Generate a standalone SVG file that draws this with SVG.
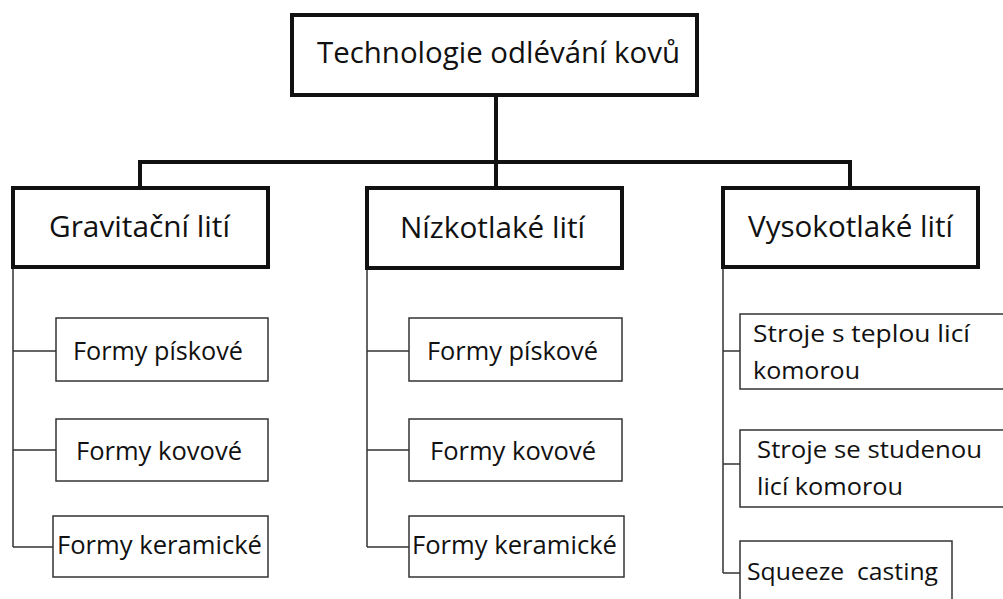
<svg xmlns="http://www.w3.org/2000/svg" width="1003" height="599" viewBox="0 0 1003 599">
<style>
.thick{fill:#fff;stroke:#111;stroke-width:4}
.thin{fill:#fff;stroke:#333;stroke-width:1.5}
.cthick{fill:none;stroke:#111;stroke-width:4}
.cthin{fill:none;stroke:#333;stroke-width:1.5}
text{font-family:"Open Sans",Lato,"Liberation Sans",sans-serif;fill:#111}
.t1{font-size:29px}
.t3{font-size:26px}
.t4{font-size:24px}
</style>
<rect width="1003" height="599" fill="#fff"/>
<g id="connectors">
<path class="cthick" d="M496 95V188M140 188V162H850V188"/>
<path class="cthin" d="M13 267V547M13 351H56M13 450H56M13 547H53"/>
<path class="cthin" d="M367 268V547M367 351H409M367 450H409M367 547H409"/>
<path class="cthin" d="M723 267V573M723 351H740M723 464H740M723 573H740"/>
</g>
<g id="root"><rect class="thick" x="292" y="15" width="405" height="80"/><text class="t1" x="317" y="63" textLength="363" lengthAdjust="spacingAndGlyphs">Technologie odlévání kovů</text></g>
<g id="gravitacni"><rect class="thick" x="13" y="188" width="255" height="79"/><text class="t1" x="49" y="237" textLength="181" lengthAdjust="spacingAndGlyphs">Gravitační lití</text></g>
<g id="nizkotlake"><rect class="thick" x="367" y="188" width="255" height="80"/><text class="t1" x="400" y="238" textLength="185" lengthAdjust="spacingAndGlyphs">Nízkotlaké lití</text></g>
<g id="vysokotlake"><rect class="thick" x="723" y="188" width="255" height="79"/><text class="t1" x="748" y="237" textLength="205" lengthAdjust="spacingAndGlyphs">Vysokotlaké lití</text></g>
<g id="g-piskove"><rect class="thin" x="56" y="318" width="212" height="63"/><text class="t3" x="73" y="360" textLength="170" lengthAdjust="spacingAndGlyphs">Formy pískové</text></g>
<g id="g-kovove"><rect class="thin" x="56" y="419" width="212" height="62"/><text class="t3" x="76" y="460" textLength="166" lengthAdjust="spacingAndGlyphs">Formy kovové</text></g>
<g id="g-keramicke"><rect class="thin" x="53" y="516" width="215" height="61"/><text class="t3" x="57" y="554" textLength="205" lengthAdjust="spacingAndGlyphs">Formy keramické</text></g>
<g id="n-piskove"><rect class="thin" x="409" y="318" width="213" height="63"/><text class="t3" x="427" y="360" textLength="171" lengthAdjust="spacingAndGlyphs">Formy pískové</text></g>
<g id="n-kovove"><rect class="thin" x="409" y="419" width="213" height="62"/><text class="t3" x="430" y="460" textLength="166" lengthAdjust="spacingAndGlyphs">Formy kovové</text></g>
<g id="n-keramicke"><rect class="thin" x="409" y="516" width="215" height="61"/><text class="t3" x="412" y="554" textLength="205" lengthAdjust="spacingAndGlyphs">Formy keramické</text></g>
<g id="v-teplou"><rect class="thin" x="740" y="314" width="270" height="75"/><text class="t4" x="753" y="342" textLength="217" lengthAdjust="spacingAndGlyphs">Stroje s teplou licí</text><text class="t4" x="753" y="379" textLength="107" lengthAdjust="spacingAndGlyphs">komorou</text></g>
<g id="v-studenou"><rect class="thin" x="740" y="430" width="270" height="77"/><text class="t4" x="757" y="458" textLength="225" lengthAdjust="spacingAndGlyphs">Stroje se studenou</text><text class="t4" x="757" y="495" textLength="146" lengthAdjust="spacingAndGlyphs">licí komorou</text></g>
<g id="v-squeeze"><rect class="thin" x="740" y="541" width="212" height="70"/><text class="t4" x="747" y="580" textLength="191" lengthAdjust="spacingAndGlyphs" xml:space="preserve">Squeeze  casting</text></g>
</svg>
